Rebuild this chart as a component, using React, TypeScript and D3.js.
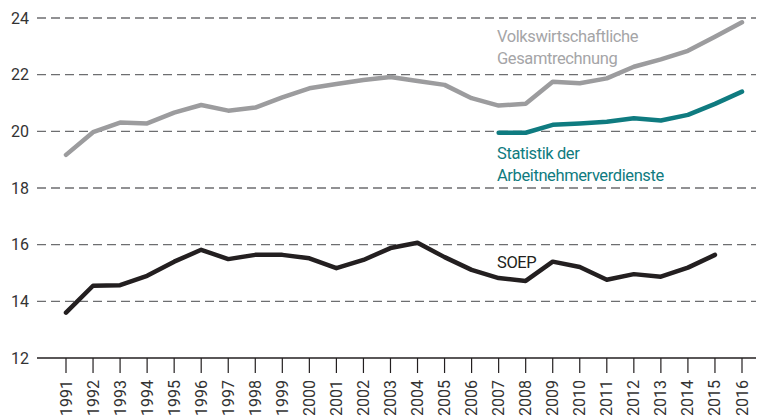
import { useEffect, useRef } from 'react'
import * as d3 from 'd3'

const years = d3.range(1991, 2017)
const yTicks = [12, 14, 16, 18, 20, 22, 24]

// Volkswirtschaftliche Gesamtrechnung, 1991-2016
const vgr = [19.17, 19.97, 20.31, 20.28, 20.66, 20.93, 20.73, 20.84, 21.2, 21.52, 21.67, 21.81, 21.92,
  21.78, 21.64, 21.17, 20.91, 20.97, 21.75, 21.7, 21.87, 22.28, 22.54, 22.84, 23.34, 23.85]
// Statistik der Arbeitnehmerverdienste, 2007-2016
const vseYears = d3.range(2007, 2017)
const vse = [19.95, 19.95, 20.23, 20.28, 20.34, 20.46, 20.38, 20.58, 20.97, 21.4]
// SOEP, 1991-2015
const soepYears = d3.range(1991, 2016)
const soep = [13.6, 14.55, 14.57, 14.9, 15.4, 15.82, 15.49, 15.64, 15.64, 15.52, 15.17, 15.46, 15.88,
  16.07, 15.56, 15.11, 14.82, 14.72, 15.4, 15.21, 14.76, 14.96, 14.87, 15.19, 15.64]

const W = 768
const H = 417
const font = 'Roboto, "Noto Sans", sans-serif'

export default function App() {
  const svgRef = useRef<SVGSVGElement>(null)

  useEffect(() => {
    if (!svgRef.current) return
    const svg = d3.select(svgRef.current)
    svg.selectAll('*').remove()

    const x = d3.scaleLinear().domain([1991, 2016]).range([66, 742])
    const y = d3.scaleLinear().domain([12, 24]).range([358, 18])
    const left = 37
    const right = 756

    // gridlines
    svg.append('g')
      .selectAll('line')
      .data(yTicks.filter(t => t > 12))
      .enter()
      .append('line')
      .attr('x1', left)
      .attr('x2', right)
      .attr('y1', d => y(d))
      .attr('y2', d => y(d))
      .attr('stroke', '#6d6e70')
      .attr('stroke-width', 1.3)
      .attr('stroke-dasharray', '9,5')

    // y labels
    svg.append('g')
      .selectAll('text')
      .data(yTicks)
      .enter()
      .append('text')
      .attr('x', 29)
      .attr('y', d => y(d) + 5.8)
      .attr('text-anchor', 'end')
      .attr('font-size', '16px')
      .attr('font-family', font)
      .attr('fill', '#333')
      .text(d => d)

    // x axis
    svg.append('line')
      .attr('x1', left).attr('x2', right)
      .attr('y1', y(12)).attr('y2', y(12))
      .attr('stroke', '#231f20').attr('stroke-width', 1.3)

    const xg = svg.append('g')
    xg.selectAll('line')
      .data(years)
      .enter()
      .append('line')
      .attr('x1', d => x(d)).attr('x2', d => x(d))
      .attr('y1', y(12)).attr('y2', y(12) + 15)
      .attr('stroke', '#231f20').attr('stroke-width', 1.2)
    xg.selectAll('text')
      .data(years)
      .enter()
      .append('text')
      .attr('transform', d => `translate(${x(d) + 5.5},${380}) rotate(-90)`)
      .attr('text-anchor', 'end')
      .attr('font-size', '16px')
      .attr('font-family', font)
      .attr('fill', '#333')
      .text(d => d)

    const line = d3.line<[number, number]>()
      .x(d => x(d[0]))
      .y(d => y(d[1]))
      .curve(d3.curveLinear)

    const drawSeries = (yrs: number[], vals: number[], color: string) => {
      svg.append('path')
        .datum(yrs.map((yr, i) => [yr, vals[i]] as [number, number]))
        .attr('d', line)
        .attr('fill', 'none')
        .attr('stroke', color)
        .attr('stroke-width', 4.5)
        .attr('stroke-linejoin', 'round')
        .attr('stroke-linecap', 'round')
    }
    drawSeries(years, vgr, '#9c9c9e')
    drawSeries(vseYears, vse, '#0f7b80')
    drawSeries(soepYears, soep, '#231f20')

    // labels
    const labels: [string[], number, string][] = [
      [['Volkswirtschaftliche', 'Gesamtrechnung'], 42, '#a5a5a7'],
      [['Statistik der', 'Arbeitnehmerverdienste'], 159, '#0f7b80'],
      [['SOEP'], 268, '#231f20'],
    ]
    labels.forEach(([lines, by, color]) => {
      lines.forEach((t, i) => {
        svg.append('text')
          .attr('x', 497)
          .attr('y', by + i * 22)
          .attr('font-size', '16.5px')
          .attr('letter-spacing', '-0.4px')
          .attr('font-family', font)
          .attr('fill', color)
          .text(t)
      })
    })
  }, [])

  return (
    <svg ref={svgRef} width={W} height={H}
      style={{ position: 'absolute', left: 0, top: 0, background: '#fff' }} />
  )
}
